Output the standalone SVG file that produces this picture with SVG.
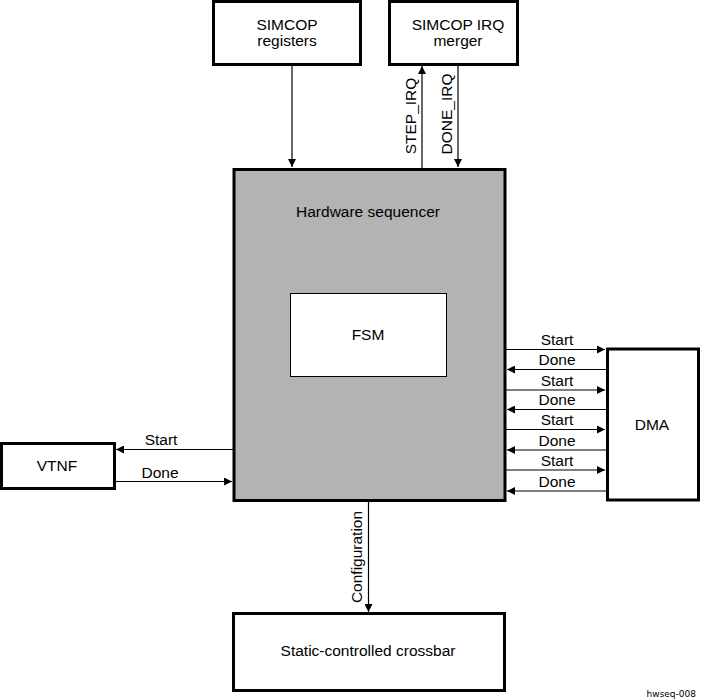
<svg xmlns="http://www.w3.org/2000/svg" width="701" height="700" viewBox="0 0 701 700">
<style>
.box{fill:#fff;stroke:#000;stroke-width:3}
.seq{fill:#b3b3b3;stroke:#000;stroke-width:3}
.thin{fill:#fff;stroke:#000;stroke-width:1}
.t{font-family:"Liberation Sans",Arial,sans-serif;font-size:15.5px;fill:#000;text-anchor:middle}
.c{stroke:#000;stroke-width:1.2;fill:none;marker-end:url(#ah)}
</style>
<defs>
<marker id="ah" viewBox="0 0 10 10" refX="10" refY="5" markerWidth="9" markerHeight="8" markerUnits="userSpaceOnUse" orient="auto">
<path d="M0,0 L10,5 L0,10 z" fill="#000"/>
</marker>
</defs>
<g id="connectors">
<line class="c" x1="292" y1="65" x2="292" y2="167"/>
<line class="c" x1="422" y1="168" x2="422" y2="66"/>
<line class="c" x1="458" y1="65" x2="458" y2="167"/>
<text class="t" transform="translate(416,116) rotate(-90)">STEP_IRQ</text>
<text class="t" transform="translate(452,114) rotate(-90)">DONE_IRQ</text>
<line class="c" x1="505" y1="349.5" x2="605" y2="349.5"/>
<line class="c" x1="606" y1="369.5" x2="507" y2="369.5"/>
<line class="c" x1="505" y1="390" x2="605" y2="390"/>
<line class="c" x1="606" y1="409.5" x2="507" y2="409.5"/>
<line class="c" x1="505" y1="429.5" x2="605" y2="429.5"/>
<line class="c" x1="606" y1="450" x2="507" y2="450"/>
<line class="c" x1="505" y1="470" x2="605" y2="470"/>
<line class="c" x1="606" y1="491" x2="507" y2="491"/>
<text class="t" x="557" y="345">Start</text>
<text class="t" x="557" y="365">Done</text>
<text class="t" x="557" y="385.5">Start</text>
<text class="t" x="557" y="405">Done</text>
<text class="t" x="557" y="425">Start</text>
<text class="t" x="557" y="445.5">Done</text>
<text class="t" x="557" y="465.5">Start</text>
<text class="t" x="557" y="486.5">Done</text>
<line class="c" x1="233" y1="449.5" x2="116" y2="449.5"/>
<line class="c" x1="115" y1="481.5" x2="232" y2="481.5"/>
<text class="t" x="161" y="445">Start</text>
<text class="t" x="160" y="477.5">Done</text>
<line class="c" x1="368.5" y1="502" x2="368.5" y2="612"/>
<text class="t" transform="translate(362,557) rotate(-90)">Configuration</text>
</g>
<g id="simcop-registers">
<rect class="box" x="213.5" y="1.5" width="147" height="63"/>
<text class="t" x="287" y="30">SIMCOP</text>
<text class="t" x="287" y="46">registers</text>
</g>
<g id="simcop-irq-merger">
<rect class="box" x="389.5" y="1.5" width="128" height="63"/>
<text class="t" x="458" y="30">SIMCOP IRQ</text>
<text class="t" x="458" y="46">merger</text>
</g>
<g id="hardware-sequencer">
<rect class="seq" x="234" y="169.5" width="271" height="331"/>
<text class="t" x="368" y="217">Hardware sequencer</text>
</g>
<g id="fsm">
<rect class="thin" x="290.5" y="293.5" width="156" height="83"/>
<text class="t" x="368" y="340">FSM</text>
</g>
<g id="dma">
<rect class="box" x="607.5" y="349" width="91" height="151"/>
<text class="t" x="652" y="430">DMA</text>
</g>
<g id="vtnf">
<rect class="box" x="1.5" y="443.5" width="113" height="45"/>
<text class="t" x="57" y="471">VTNF</text>
</g>
<g id="crossbar">
<rect class="box" x="233.5" y="613.5" width="271" height="77"/>
<text class="t" x="368" y="656">Static-controlled crossbar</text>
</g>
<text x="696" y="697" font-family="'DejaVu Sans',sans-serif" font-size="9" text-anchor="end">hwseq-008</text>
</svg>
